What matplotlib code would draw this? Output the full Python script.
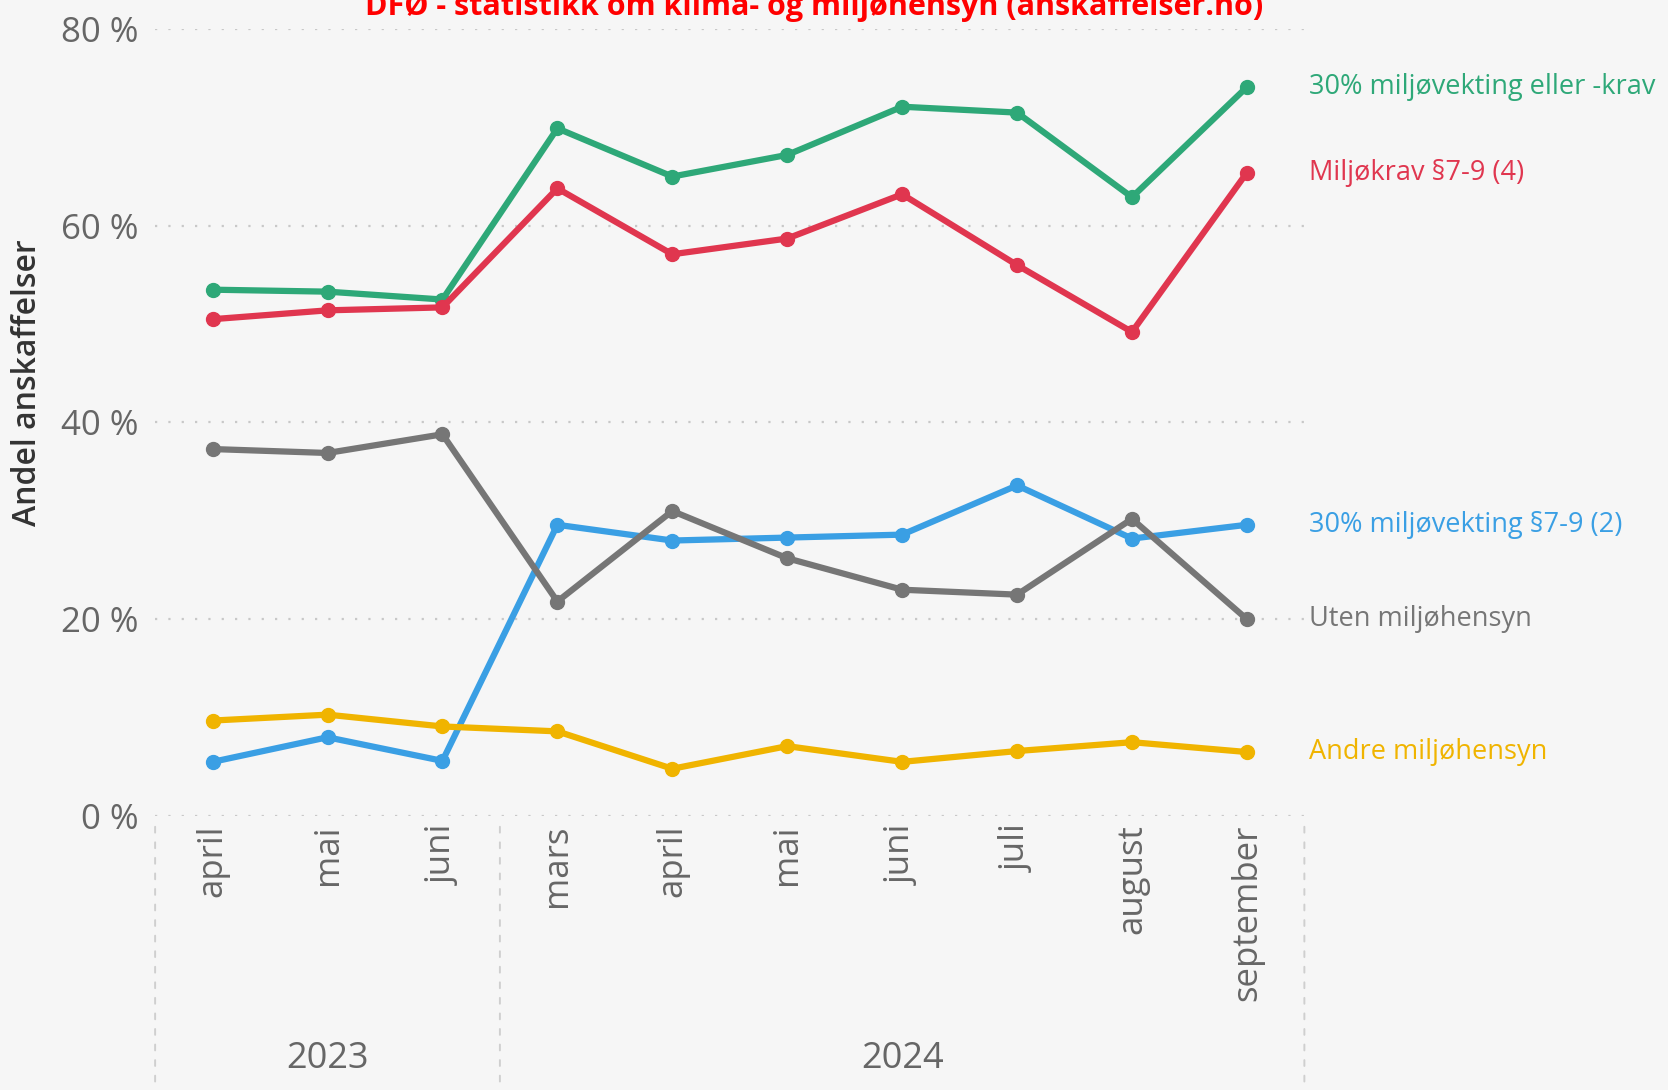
import matplotlib
matplotlib.use("Agg")
import matplotlib.pyplot as plt

# months on the x axis, grouped by year
months = ["april", "mai", "juni", "mars", "april", "mai", "juni", "juli", "august", "september"]
years = ["2023", "2024"]
year_sizes = [3, 7]

# shares in percent
green = [53.5, 53.3, 52.5, 69.9, 65.0, 67.2, 72.1, 71.5, 62.9, 74.1]
red = [50.5, 51.4, 51.7, 63.8, 57.1, 58.7, 63.2, 56.0, 49.2, 65.4]
gray = [37.3, 36.9, 38.8, 21.8, 31.0, 26.2, 23.0, 22.5, 30.2, 20.0]
blue = [5.5, 8.0, 5.6, 29.6, 28.0, 28.3, 28.6, 33.6, 28.2, 29.6]
yellow = [9.7, 10.3, 9.1, 8.6, 4.8, 7.1, 5.5, 6.6, 7.5, 6.5]

series_names = ["30% miljøvekting eller -krav", "Miljøkrav §7-9 (4)",
                "30% miljøvekting §7-9 (2)", "Uten miljøhensyn", "Andre miljøhensyn"]
series_vals = [green, red, blue, gray, yellow]
series_cols = ["#2EA878", "#E0364F", "#3A9FE4", "#767676", "#F0B400"]

bg = "#F6F6F6"
plt.rcParams['font.family'] = ['Open Sans', 'DejaVu Sans']

fig = plt.figure(figsize=(16.68, 10.90), dpi=100, facecolor=bg)
ax = fig.add_axes([0.093, 0.2514, 0.689, 0.722])
ax.set_facecolor(bg)

x = list(range(len(months)))
for vals, col, name in zip(series_vals, series_cols, series_names):
    ax.plot(x, vals, color=col, lw=4.5, marker="o", ms=10, solid_joinstyle="round", clip_on=False, zorder=3)
    ax.text(len(months) - 0.5 + 0.04, vals[-1], name, color=col, fontsize=19.5,
            va="center", ha="left", clip_on=False)

ax.set_xlim(-0.5, len(months) - 0.5)
ax.set_ylim(0, 80)
ax.set_yticks([0, 20, 40, 60, 80])
ax.set_yticklabels(["0 %", "20 %", "40 %", "60 %", "80 %"])
ax.yaxis.grid(True, color="#C8C8C8", lw=1.6, linestyle=(0, (1, 5)))
ax.set_axisbelow(True)
for s in ax.spines.values():
    s.set_visible(False)
ax.tick_params(axis="y", length=0, pad=12, labelsize=25, labelcolor="#666666")
ax.tick_params(axis="x", length=0, pad=6, labelsize=25, labelcolor="#666666")
ax.set_xticks(x)
ax.set_xticklabels(months, rotation=90, va="top")

ax.set_ylabel("Andel anskaffelser", fontsize=23, color="#333333", fontweight="semibold")
ax.yaxis.set_label_coords(-0.097, 0.55)

# year group labels and separators below the axis
start = 0
bounds = [-0.5]
for yr, n in zip(years, year_sizes):
    mid = start + (n - 1) / 2
    ax.annotate(yr, xy=(mid, 0), xycoords=("data", "axes fraction"), xytext=(0, -243),
                textcoords="offset pixels", ha="center", va="center", fontsize=26, color="#666666")
    start += n
    bounds.append(start - 0.5)
for b in bounds:
    ax.annotate("", xy=(b, 0), xycoords=("data", "axes fraction"), xytext=(b, -0.42),
                textcoords=("data", "axes fraction"),
                arrowprops=dict(arrowstyle="-", color="#CFCFCF", lw=1.4, linestyle=(0, (3, 5))))

fig.text(0.488, 0.994, "DFØ - statistikk om klima- og miljøhensyn (anskaffelser.no)",
         color="#FF0000", fontsize=22, fontweight="bold", ha="center", va="center")

fig.savefig("out.png", dpi=100, facecolor=bg)
